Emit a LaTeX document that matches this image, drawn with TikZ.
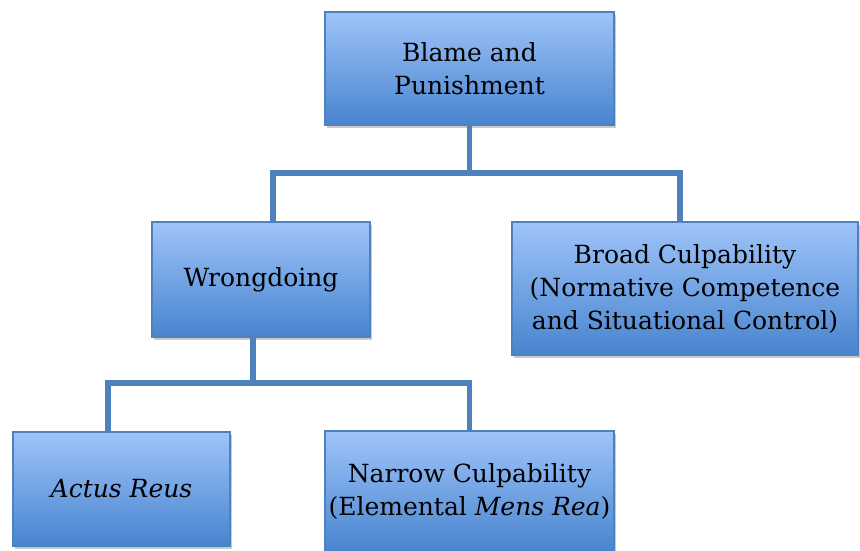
\documentclass[tikz,border=0pt]{standalone}
\usepackage{fontspec}
\setmainfont{DejaVu Serif}
\usepackage{tikz}
\usetikzlibrary{positioning, calc, shadows}
\definecolor{boxtop}{RGB}{158,196,250}
\definecolor{boxbot}{RGB}{72,132,206}
\definecolor{boxline}{RGB}{79,129,189}
\tikzset{
  conceptbox/.style={rectangle, align=center, inner sep=0pt, draw=boxline, line width=1.2pt,
    top color=boxtop, bottom color=boxbot,
    drop shadow={shadow xshift=2pt, shadow yshift=-3pt, opacity=0.35, fill=black!60},
    font=\fontsize{25}{33}\selectfont},
  link/.style={draw=boxline, line width=5.5pt}
}

\begin{document}
\begin{tikzpicture}[x=1pt, y=-1pt]
    \useasboundingbox (0,0) rectangle (860,550);

    % 1. Cajas
    \node[conceptbox, minimum width=289pt, minimum height=113pt] (blame) at (469.5, 68.5) {Blame and\\Punishment};
    \node[conceptbox, minimum width=218pt, minimum height=115pt] (wrong) at (261, 279.5) {Wrongdoing};
    \node[conceptbox, minimum width=346pt, minimum height=133pt] (broad) at (685, 288.5) {Broad Culpability\\(Normative Competence\\and Situational Control)};
    \node[conceptbox, minimum width=217pt, minimum height=114pt] (actus) at (121.5, 489) {\textit{Actus Reus}};
    \node[conceptbox, minimum width=289pt, minimum height=121pt] (narrow) at (469.5, 491.5) {Narrow Culpability\\(Elemental \textit{Mens Rea})};

    % 2. Conexiones
    \draw[link] (blame.south) -- ++(0,47.5) coordinate (j1);
    \draw[link] ([xshift=12pt]wrong.north) |- (j1) -| ([xshift=-5pt]broad.north);

    \draw[link] ([xshift=-8pt]wrong.south) -- ++(0,45.5) coordinate (j2);
    \draw[link] ([xshift=-13.5pt]actus.north) |- (j2) -| (narrow.north);
\end{tikzpicture}
\end{document}
